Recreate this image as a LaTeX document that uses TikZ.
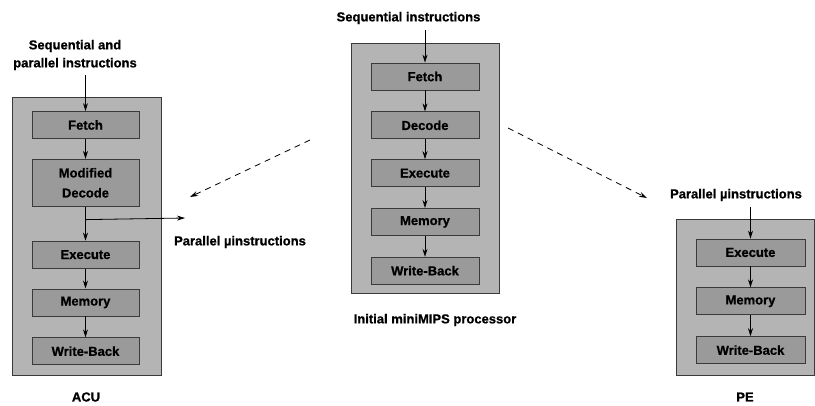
\documentclass[tikz,border=0pt]{standalone}
\usepackage{fontspec}
\setmainfont[BoldFeatures={FakeBold=0.8}]{Liberation Sans}
\usepackage{tikz}
\usetikzlibrary{positioning}
\usetikzlibrary{arrows.meta, calc}
\definecolor{unitgray}{HTML}{B4B4B4}
\definecolor{stagegray}{HTML}{9A9A9A}
\definecolor{edgegray}{HTML}{3A3A3A}
\tikzstyle{arrow} = [line width=0.8pt,->,>={Stealth[length=8pt,width=5pt]}]
\tikzstyle{flow} = [arrow,dashed,dash pattern=on 6pt off 5pt]
\tikzstyle{unit} = [draw=edgegray,line width=0.8pt,fill=unitgray,inner sep=0pt]
\tikzstyle{stage} = [draw=edgegray,line width=0.8pt,fill=stagegray,inner sep=0pt,minimum width=107pt,minimum height=27pt,align=center]
\tikzstyle{label} = [align=center,inner sep=0pt]

\begin{document}
\begin{tikzpicture}[x=1pt,y=1pt,font=\fontsize{13}{18}\selectfont\bfseries]
	\useasboundingbox (0,0) rectangle (815,-405);
	
	%Units
	\node [unit,minimum width=149pt,minimum height=278pt] (acu) at (86.5,-236) {};
	\node [unit,minimum width=148pt,minimum height=250pt] (mips) at (425,-168) {};
	\node [unit,minimum width=138pt,minimum height=156pt] (pe) at (745,-297) {};
	
	%ACU stages
	\node [stage] (fetchA) at (85.5,-125) {Fetch};
	\node [stage,minimum height=47pt,below=20pt of fetchA] (decA) {Modified\\[2pt]Decode};
	\node [stage,below=34pt of decA] (exeA) {Execute};
	\node [stage,below=20pt of exeA] (memA) {Memory};
	\node [stage,below=21pt of memA] (wbA) {Write-Back};
	
	%miniMIPS stages
	\node [stage,minimum width=108pt] (fetchB) at (425,-76.5) {Fetch};
	\node [stage,minimum width=108pt,below=21pt of fetchB] (decB) {Decode};
	\node [stage,minimum width=108pt,below=20pt of decB] (exeB) {Execute};
	\node [stage,minimum width=108pt,below=21pt of exeB] (memB) {Memory};
	\node [stage,minimum width=108pt,below=21pt of memB] (wbB) {Write-Back};
	
	%PE stages
	\node [stage,minimum width=109pt] (exeC) at (750.5,-252.5) {Execute};
	\node [stage,minimum width=109pt,below=21pt of exeC] (memC) {Memory};
	\node [stage,minimum width=109pt,below=21pt of memC] (wbC) {Write-Back};
	
	%Labels
	\node [label] (inA) at (75,-55) {Sequential and\\parallel instructions};
	\node [label] (inB) at (408.5,-18) {Sequential instructions};
	\node [label] (inC) at (736,-195) {Parallel µinstructions};
	\node [label] (outA) at (240,-242) {Parallel µinstructions};
	\node [label] (nameA) at (86,-397) {ACU};
	\node [label] (nameB) at (435,-320) {Initial miniMIPS processor};
	\node [label] (nameC) at (745,-397) {PE};
	
	%Coordinates
	\coordinate (branch) at ($(decA.south)!0.38!(exeA.north)$);
	\coordinate (pout) at (185,-218);
	\coordinate (fromL) at (310,-140);
	\coordinate (toL) at (190,-197);
	\coordinate (fromR) at (508,-128);
	\coordinate (toR) at (647,-198);
	
	%Lines
	\draw[arrow] ([yshift=-5pt]inA.south -| fetchA.north) -- (fetchA.north);
	\draw[arrow] (fetchA) -- (decA);
	\draw[arrow] (decA) -- (exeA);
	\draw[arrow] (exeA) -- (memA);
	\draw[arrow] (memA) -- (wbA);
	\draw[arrow] (branch) -- (pout);
	
	\draw[arrow] ([yshift=-6pt]inB.south -| fetchB.north) -- (fetchB.north);
	\draw[arrow] (fetchB) -- (decB);
	\draw[arrow] (decB) -- (exeB);
	\draw[arrow] (exeB) -- (memB);
	\draw[arrow] (memB) -- (wbB);
	
	\draw[arrow] ([yshift=-6pt]inC.south -| exeC.north) -- (exeC.north);
	\draw[arrow] (exeC) -- (memC);
	\draw[arrow] (memC) -- (wbC);
	
	\draw[flow] (fromL) -- (toL);
	\draw[flow] (fromR) -- (toR);
	
\end{tikzpicture}
\end{document}
